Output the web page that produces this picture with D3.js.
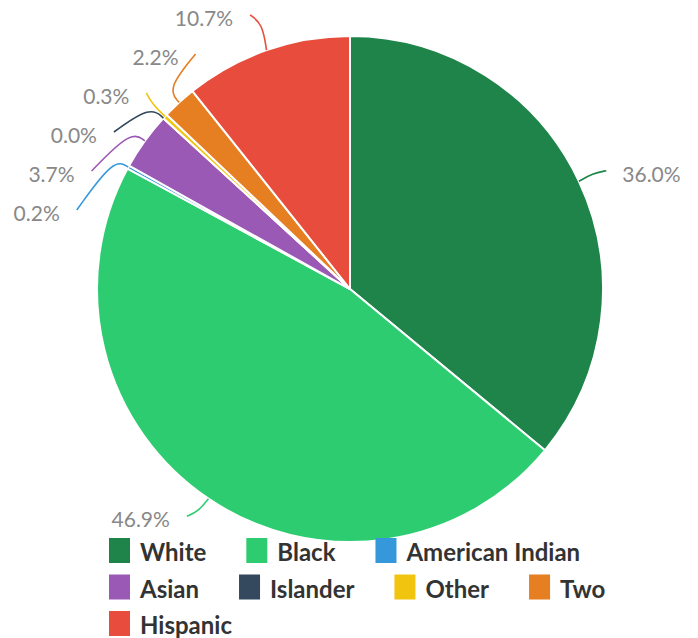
<!DOCTYPE html>
<html>
<head>
<meta charset="utf-8">
<script src="https://cdn.jsdelivr.net/npm/d3@7"></script>
<style>
  html, body { margin: 0; padding: 0; background: #fff; }
  svg { display: block; }
</style>
</head>
<body>
<svg id="chart" width="698" height="638"></svg>
<script>
// ---- data ----
const categories = ["White", "Black", "American Indian", "Asian", "Islander", "Other", "Two", "Hispanic"];
const values = [36.0, 46.9, 0.2, 3.7, 0.0, 0.3, 2.2, 10.7];
const colors = ["#1e8449", "#2ecc71", "#3498db", "#9b59b6", "#34495e", "#f1c40f", "#e67e22", "#e74c3c"];

// ---- layout ----
const W = 698, H = 638;
const cx = 350, cy = 289, R = 253;
const L = 275.5;           // label ring radius
const minGap = 39;         // vertical spacing between stacked labels
const topBound = 15, bottomBound = 530;

const svg = d3.select("#chart");
const color = d3.scaleOrdinal().domain(categories).range(colors);

const arcs = d3.pie().sort(null).value(d => d.v)(categories.map((c, i) => ({ c, v: values[i] })));
const arcGen = d3.arc().innerRadius(0).outerRadius(R);

const g = svg.append("g").attr("transform", `translate(${cx},${cy})`);
g.selectAll("path.slice").data(arcs).join("path")
  .attr("class", "slice")
  .attr("d", arcGen)
  .attr("fill", d => color(d.data.c))
  .attr("stroke", "#fff")
  .attr("stroke-width", 2)
  .attr("stroke-linejoin", "round");

// ---- outer labels ----
const labels = arcs.map((a, i) => {
  const th = (a.startAngle + a.endAngle) / 2;
  const side = th > Math.PI ? -1 : 1;
  const px = cx + L * Math.sin(th), py = cy - L * Math.cos(th);
  const ix = px + (side > 0 ? 7 : -9), iy = py - 1;
  return {
    i, th, side, c: a.data.c, v: a.data.v,
    ox: cx + R * Math.sin(th), oy: cy - R * Math.cos(th),
    ix, iy, y: iy, x: ix, pinned: false
  };
});

[-1, 1].forEach(side => {
  const s = labels.filter(l => l.side === side).sort((a, b) => a.iy - b.iy);
  for (let it = 0; it < 400; it++) {
    for (let j = 0; j < s.length - 1; j++) {
      const gap = s[j + 1].y - s[j].y;
      if (gap < minGap) {
        const d = (minGap - gap) / 2;
        s[j].y -= d; s[j + 1].y += d;
      }
    }
    s.forEach(l => { l.y = Math.max(topBound, Math.min(bottomBound, l.y)); });
  }
  s.forEach(l => {
    l.pinned = (l.y <= topBound + 0.01) || (l.y >= bottomBound - 0.01);
    if (Math.abs(l.y - l.iy) > 0.5 && !l.pinned) {
      const dy = cy - (l.y + 1);
      const dx = Math.sqrt(Math.max(L * L - dy * dy, 0));
      l.x = cx + side * dx + (side > 0 ? 7 : -9);
    } else {
      l.x = l.ix;
    }
  });
});

const lineGen = d3.line().x(d => d[0]).y(d => d[1]).curve(d3.curveBasis);
svg.append("g").selectAll("path").data(labels).join("path")
  .attr("d", l => {
    const mx = (l.ox + l.ix) / 2;
    const my = (l.pinned ? l.y : l.iy) + (l.oy - (l.pinned ? l.y : l.iy)) / 4;
    const mxx = l.pinned ? l.ox - (l.ox - l.x) / 4 : mx;
    return lineGen([[l.ox, l.oy], [mxx, my], [l.x, l.y]]);
  })
  .attr("fill", "none")
  .attr("stroke", l => color(l.c))
  .attr("stroke-width", 1.6);

svg.append("g").selectAll("text").data(labels).join("text")
  .attr("x", l => l.side > 0 ? l.x + 16 : l.x - 17)
  .attr("y", l => l.y + 11)
  .attr("text-anchor", l => l.side > 0 ? "start" : "end")
  .attr("font-family", "Lato, 'Open Sans', sans-serif")
  .attr("font-size", 21)
  .attr("font-weight", 400)
  .attr("fill", "#888")
  .text(l => l.v.toFixed(1) + "%");

// ---- legend ----
const legend = svg.append("g");
const lx0 = 109, ly0 = 538, rowH = 36.5, sw = 21, sh = 25, textGap = 10, itemGap = 40, maxRight = 690;
let lx = lx0, ly = ly0;
categories.forEach((c, i) => {
  const item = legend.append("g");
  const t = item.append("text")
    .attr("x", sw + textGap).attr("y", 23)
    .attr("font-family", "Lato, 'Open Sans', sans-serif")
    .attr("font-size", 24)
    .attr("font-weight", 700)
    .attr("fill", "#333")
    .text(c);
  const tw = t.node().getComputedTextLength();
  const w = sw + textGap + tw;
  if (lx + w > maxRight && lx > lx0) { lx = lx0; ly += rowH; }
  item.attr("transform", `translate(${lx},${ly})`);
  item.insert("rect", "text").attr("width", sw).attr("height", sh).attr("fill", color(c));
  lx += w + itemGap;
});
</script>
</body>
</html>
